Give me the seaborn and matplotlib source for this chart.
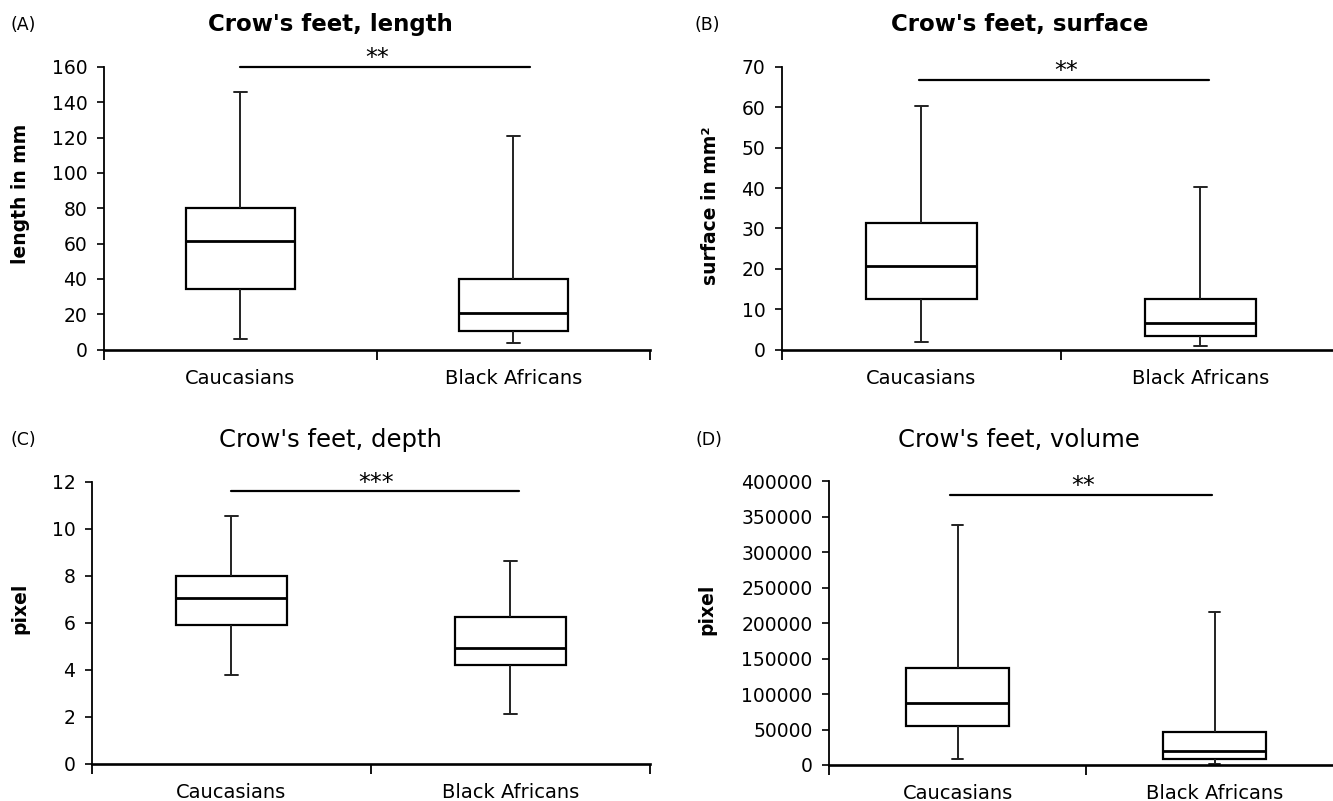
import numpy as np
import pandas as pd
import matplotlib
matplotlib.use("Agg")
import matplotlib.pyplot as plt
import seaborn as sns

groups = ["Caucasians", "Black Africans"]

# five-number summaries: min, q1, median, q3, max
length_cau = [6.1, 34.6, 61.6, 80.2, 146]
length_afr = [3.8, 10.3, 20.9, 39.9, 120.7]
surface_cau = [2.0, 12.6, 20.6, 31.3, 60.4]
surface_afr = [1.0, 3.4, 6.7, 12.5, 40.3]
depth_cau = [3.77, 5.93, 7.06, 7.98, 10.55]
depth_afr = [2.12, 4.2, 4.93, 6.26, 8.64]
volume_cau = [8100, 55200, 87000, 136500, 339100]
volume_afr = [1400, 8100, 19000, 46100, 216000]

titles = ["Crow's feet, length", "Crow's feet, surface",
          "Crow's feet, depth", "Crow's feet, volume"]
panel_tags = ["(A)", "(B)", "(C)", "(D)"]
ylabels = ["length in mm", "surface in mm²", "pixel", "pixel"]
y_max = [160, 70, 12, 400000]
y_step = [20, 10, 2, 50000]
stars = ["**", "**", "***", "**"]
bar_y = [160, 66.8, 11.6, 381000]
bar_x = [(0.0, 1.06), (-0.01, 1.03), (0.0, 1.03), (-0.03, 0.99)]
star_x = [0.5, 0.52, 0.52, 0.49]

panels = [(length_cau, length_afr), (surface_cau, surface_afr),
          (depth_cau, depth_afr), (volume_cau, volume_afr)]

sns.set_theme(style="ticks")
plt.rcParams["font.family"] = ["DejaVu Sans"]
plt.rcParams["text.color"] = "black"
plt.rcParams["axes.labelcolor"] = "black"
plt.rcParams["xtick.color"] = "black"
plt.rcParams["ytick.color"] = "black"

fig = plt.figure(figsize=(13.33, 8.01), dpi=100)

# axes boxes in figure fractions [left, bottom, width, height]
positions = [
    [0.078, 0.5635, 0.4096, 0.3529],
    [0.5866, 0.5635, 0.4186, 0.3529],
    [0.069, 0.0462, 0.4186, 0.3521],
    [0.622, 0.0450, 0.3856, 0.3539],
]
label_x = [-0.136, -0.111, -0.112, -0.22]
label_y = [0.55, 0.51, 0.553, 0.55]
title_x = [0.2476, 0.765, 0.2476, 0.764]
title_y = [0.969, 0.969, 0.451, 0.451]
tag_x = [0.008, 0.521, 0.008, 0.522]
bold_title = [True, True, False, False]

for i, (cau, afr) in enumerate(panels):
    ax = fig.add_axes(positions[i])
    df = pd.DataFrame({"group": np.repeat(groups, 5), "value": cau + afr})
    sns.boxplot(data=df, x="group", y="value", order=groups, ax=ax,
                whis=(0, 100), width=0.4, color="white", linecolor="black",
                linewidth=1.6, fliersize=0, capwidths=0.045,
                medianprops=dict(linewidth=2.0),
                whiskerprops=dict(linewidth=1.4, color="#222222"),
                capprops=dict(linewidth=1.4, color="#222222"))

    ax.set_xlim(-0.5, 1.5)
    ax.set_ylim(0, y_max[i])
    ax.set_yticks(np.arange(0, y_max[i] + y_step[i] / 2, y_step[i]))
    ax.yaxis.set_major_formatter(matplotlib.ticker.FuncFormatter(
        lambda v, p: f"{v:g}" if v < 1000 else f"{int(v)}"))

    ax.set_xticks([-0.5, 0.5, 1.5])
    ax.set_xticklabels(["", "", ""])
    ax.set_xticks([0, 1], minor=True)
    ax.set_xticklabels(groups, minor=True)
    ax.tick_params(axis="x", which="major", length=7, width=1.3)
    ax.tick_params(axis="x", which="minor", length=0, pad=14, labelsize=14)
    ax.tick_params(axis="y", length=5, width=1.2, pad=7, labelsize=13.5)

    sns.despine(ax=ax)
    ax.spines["left"].set_linewidth(1.3)
    ax.spines["left"].set_color("black")
    ax.spines["bottom"].set_linewidth(1.9)
    ax.spines["bottom"].set_color("black")

    ax.set_xlabel("")
    ax.set_ylabel(ylabels[i], fontsize=13.5, fontweight="bold")
    ax.yaxis.set_label_coords(label_x[i], label_y[i])

    # significance bar
    ax.plot(bar_x[i], [bar_y[i], bar_y[i]], color="black", lw=1.6, clip_on=False)
    ax.text(star_x[i], bar_y[i] - y_max[i] * 0.012, stars[i], ha="center",
            va="bottom", fontsize=17, clip_on=False)

    fig.text(title_x[i], title_y[i], titles[i], ha="center", va="center",
             fontsize=16.5 if bold_title[i] else 17.5,
             fontweight="bold" if bold_title[i] else "normal")
    fig.text(tag_x[i], title_y[i], panel_tags[i], ha="left", va="center",
             fontsize=12.5)

fig.savefig("out.png", dpi=100)
